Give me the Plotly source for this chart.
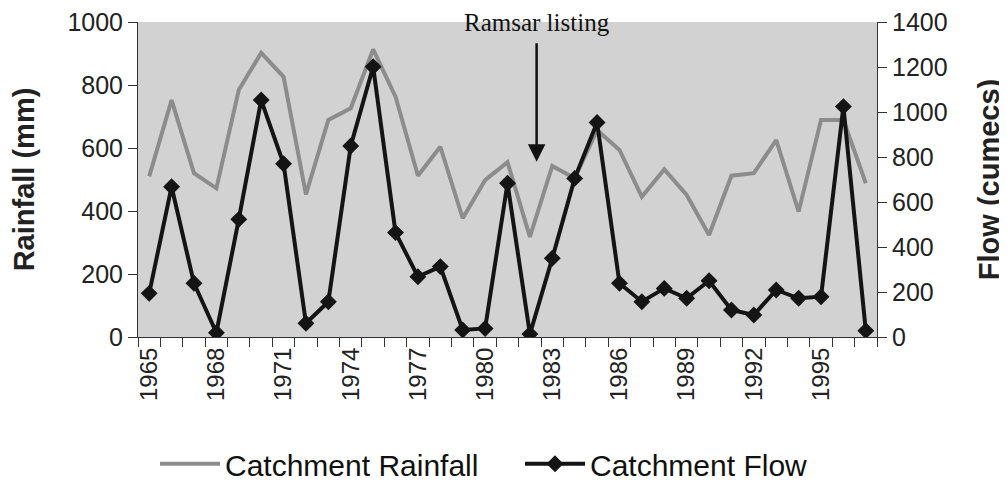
import plotly.graph_objects as go

# years on the x-axis
years = list(range(1965, 1998))

# catchment rainfall (mm), left axis
rainfall = [510, 752, 520, 472, 784, 902, 826, 453, 689, 726, 913, 763, 512, 604, 377, 498,
            555, 318, 543, 504, 657, 594, 445, 532, 451, 324, 512, 520, 625, 398, 689, 689, 488]

# catchment flow (cumecs), right axis
flow = [194, 668, 239, 19, 523, 1053, 770, 61, 157, 849, 1201, 464, 268, 313, 31, 38,
        683, 13, 350, 705, 953, 239, 157, 216, 172, 250, 120, 98, 209, 172, 179, 1024, 28]

tick_years = [1965, 1968, 1971, 1974, 1977, 1980, 1983, 1986, 1989, 1992, 1995]

FONT = "Liberation Sans, Arial"

fig = go.Figure()

fig.add_trace(go.Scatter(x=years, y=rainfall, name="Catchment Rainfall",
                         mode="lines",
                         line=dict(color="#8c8c8c", width=4)))

fig.add_trace(go.Scatter(x=years, y=flow, name="Catchment Flow",
                         mode="lines+markers", yaxis="y2",
                         line=dict(color="#141414", width=4),
                         marker=dict(symbol="diamond", size=13, color="#141414")))

#axes
fig.update_layout(
    xaxis=dict(range=[1964.5, 1997.5], tickvals=tick_years,
               ticktext=[str(y) for y in tick_years], tickangle=-90,
               ticks="outside", ticklen=0, showgrid=False, zeroline=False,
               showline=True, linecolor="#333", linewidth=1,
               minor=dict(tick0=1964.5, dtick=1, ticks="outside", ticklen=9,
                          tickcolor="#333", showgrid=False),
               tickfont=dict(family=FONT, size=24, color="#222")),
    yaxis=dict(range=[0, 1000], dtick=200, ticks="outside", ticklen=9,
               tickcolor="#333", showgrid=False, zeroline=False,
               showline=True, linecolor="#333", linewidth=1,
               ticklabeloverflow="allow",
               title=dict(text="<b>Rainfall (mm)</b>", standoff=38,
                          font=dict(family=FONT, size=29, color="#222")),
               tickfont=dict(family=FONT, size=25, color="#222")),
    yaxis2=dict(range=[0, 1400], dtick=200, overlaying="y", side="right",
                ticks="outside", ticklen=9, tickcolor="#333", showgrid=False,
                zeroline=False, showline=True, linecolor="#333", linewidth=1,
                ticklabeloverflow="allow",
                title=dict(text="<b>Flow (cumecs)</b>", standoff=32,
                           font=dict(family=FONT, size=29, color="#222")),
                tickfont=dict(family=FONT, size=25, color="#222")),
)

#annotation with arrow
fig.add_annotation(x=1982.3, y=556, xref="x", yref="y", ax=0, ay=-120,
                   showarrow=True, arrowhead=2, arrowsize=1.4, arrowwidth=2.5,
                   arrowcolor="#111", text="")
fig.add_annotation(x=1982.3, y=1.0, xref="x", yref="paper", yanchor="middle",
                   showarrow=False, text="Ramsar listing",
                   font=dict(family="Liberation Serif, Times New Roman", size=25, color="#111"))

# page has an 8px body margin, so the figure is sized to fit inside the window
fig.update_layout(
    width=999, height=485,
    margin=dict(l=130, r=130, t=14, b=156, autoexpand=False),
    plot_bgcolor="#d2d2d2", paper_bgcolor="white",
    showlegend=True,
    legend=dict(orientation="h", x=0.023, xanchor="left", y=-0.32, yanchor="top",
                font=dict(family=FONT, size=30, color="#111"),
                itemwidth=60, entrywidth=290, bgcolor="rgba(0,0,0,0)"),
)

fig.write_html("out.html")
